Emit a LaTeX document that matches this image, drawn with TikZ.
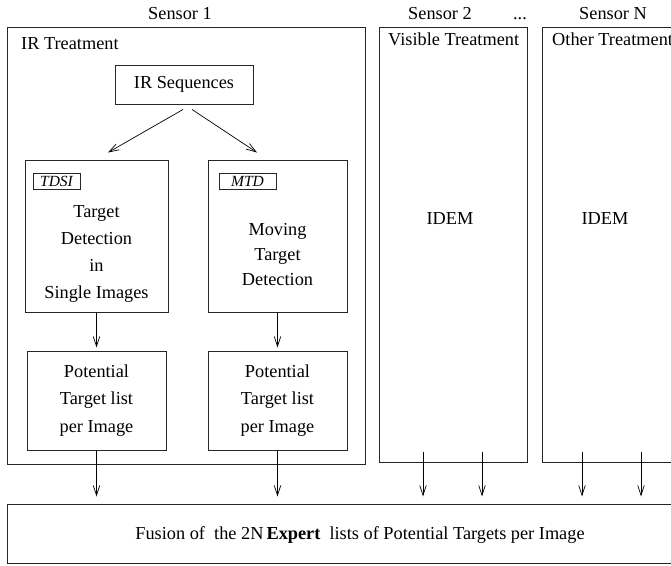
\documentclass[tikz,border=0pt]{standalone}
\usepackage{fontspec}
\setmainfont{Liberation Serif}
\usetikzlibrary{arrows.meta}
\begin{document}
\begin{tikzpicture}[x=1pt,y=-1pt,
  box/.style={draw=black!85, line width=1pt, inner sep=0pt},
  tx/.style={font=\fontsize{18.3}{22}\selectfont, inner sep=0pt},
  multi/.style={tx, align=center, font=\fontsize{18.3}{#1}\selectfont},
  tag/.style={box, font=\fontsize{15.5}{18}\itshape, minimum width=#1, minimum height=16pt},
  arr/.style={draw=black, line width=0.7pt, -{Straight Barb[length=10pt,width=6.5pt]}}
]
\useasboundingbox (0,0) rectangle (671,565);
\clip (0,0) rectangle (671,565);

% sensor boxes
\node[box, minimum width=358pt, minimum height=437pt] (s1) at (186,245.5) {};
\node[box, minimum width=148pt, minimum height=435pt] (s2) at (453,244.5) {};
\node[box, minimum width=158pt, minimum height=435pt] (sN) at (621,244.5) {};

% titles
\node[tx, anchor=base] (t1) at (180,19.5) {Sensor 1};
\node[tx, anchor=base] (t2) at (440,19.5) {Sensor 2};
\node[tx, anchor=base] (td) at (520,19.5) {...};
\node[tx, anchor=base] (tN) at (613,19.5) {Sensor N};

\node[tx, anchor=base west] (irt) at (21,49) {IR Treatment};
\node[tx, anchor=base west] (vt) at (388,45) {Visible Treatment};
\node[tx, anchor=base west] (ot) at (552,45) {Other Treatment};

\node[tx] (idem2) at (450,219) {IDEM};
\node[tx] (idemN) at (605,219) {IDEM};

% IR branch
\node[box, tx, minimum width=138pt, minimum height=39pt] (irseq) at (184,84.5) {IR Sequences};

\node[box, minimum width=143pt, minimum height=152pt] (tdsi) at (96.5,236) {};
\node[box, minimum width=139pt, minimum height=152pt] (mtd) at (277.5,236) {};
\node[tag=47pt] (tdsitag) at (56.5,181) {TDSI};
\node[tag=57pt] (mtdtag) at (247.5,181) {MTD};

\node[multi=27] (tdsitxt) at (96.5,253.5) {Target\\Detection\\in\\Single Images};
\node[multi=25] (mtdtxt) at (277.5,255) {Moving\\Target\\Detection};

\node[box, minimum width=139pt, minimum height=99pt] (pl1) at (96.5,400.5) {};
\node[box, minimum width=139pt, minimum height=99pt] (pl2) at (277.5,400.5) {};
\node[multi=27.5] (pl1txt) at (96.5,400.5) {Potential\\Target list\\per Image};
\node[multi=27.5] (pl2txt) at (277.5,400.5) {Potential\\Target list\\per Image};

% fusion
\node[box, minimum width=693pt, minimum height=59pt] (fusion) at (353.5,533.5) {};
\node[tx] (fusiontxt) at (360,535) {Fusion of\ \ the 2N\,\textbf{Expert}\ \ lists of Potential Targets per Image};

% connectors
\draw[arr] ([shift={(-1,5)}]irseq.south) -- ([shift={(11.5,-7)}]tdsi.north);
\draw[arr] ([shift={(8,5)}]irseq.south) -- ([shift={(-20.5,-7)}]mtd.north);
\draw[arr, shorten >=3pt] (tdsi.south) -- (pl1.north);
\draw[arr, shorten >=3pt] (mtd.south) -- (pl2.north);
\draw[arr, shorten >=7pt] (pl1.south) -- (pl1.south |- fusion.north);
\draw[arr, shorten >=7pt] (pl2.south) -- (pl2.south |- fusion.north);

\coordinate (s2a) at (423,452);
\coordinate (s2b) at (482,452);
\coordinate (sNa) at (582,452);
\coordinate (sNb) at (641,452);
\draw[arr, shorten >=7pt] (s2a) -- (s2a |- fusion.north);
\draw[arr, shorten >=7pt] (s2b) -- (s2b |- fusion.north);
\draw[arr, shorten >=7pt] (sNa) -- (sNa |- fusion.north);
\draw[arr, shorten >=7pt] (sNb) -- (sNb |- fusion.north);
\end{tikzpicture}
\end{document}
